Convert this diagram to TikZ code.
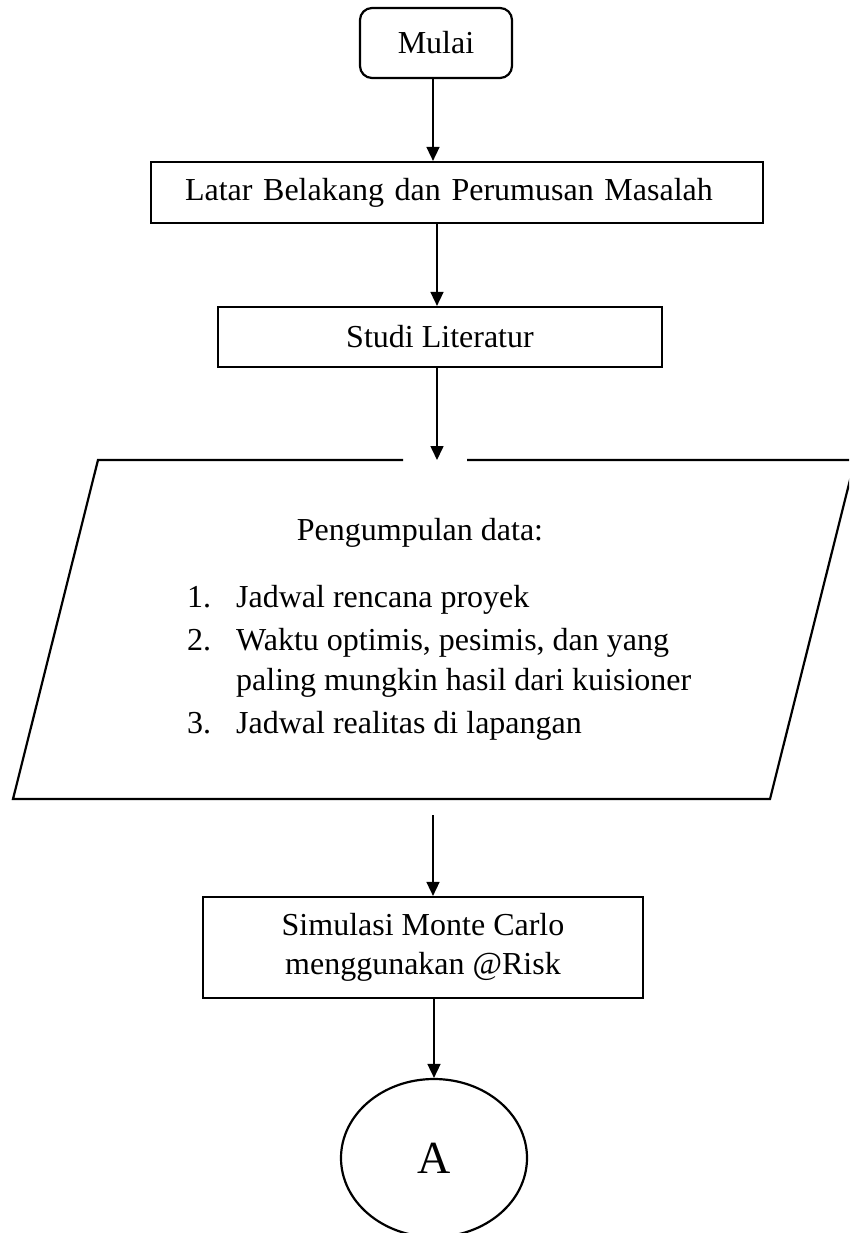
\documentclass[tikz,border=0pt]{standalone}
\usepackage{fontspec}
\setmainfont{Liberation Serif}
\usetikzlibrary{arrows.meta,shapes.geometric}
\begin{document}
\begin{tikzpicture}[x=1pt,y=-1pt,
  every node/.style={font=\fontsize{32}{38}\selectfont},
  box/.style={draw,line width=2.2pt,rectangle,inner sep=0pt},
  conn/.style={line width=1.6pt,-{Triangle[width=13pt,length=14pt]}},
  edge/.style={line width=2.2pt}]
\clip (0,0) rectangle (849,1233);
\fill[white] (0,0) rectangle (849,1233);
% start
\node[box,rounded corners=12pt,minimum width=152pt,minimum height=70pt] (mulai) at (436,43) {Mulai};
% latar belakang
\node[box,minimum width=612pt,minimum height=61pt,text width=544pt,inner xsep=34pt,align=left] (latar) at (457,192.5) {Latar Belakang dan Perumusan Masalah};
% studi literatur
\node[box,minimum width=444pt,minimum height=60pt] (studi) at (440,337) {Studi Literatur};
% data parallelogram
\coordinate (dtl) at (98,460);
\coordinate (dtr) at (855,460);
\coordinate (dbr) at (770,799);
\coordinate (dbl) at (13,799);
\coordinate (dtop) at (437,460);
\coordinate (dbot) at (433,815);
\draw[edge,line join=miter] (403,460) -- (dtl) -- (dbl) -- (dbr) -- (dtr) -- (467,460);
\node[anchor=base] (dtitle) at (420,540) {Pengumpulan data:};
\node[anchor=base west,inner sep=0pt] (n1) at (187,607) {1.};
\node[anchor=base west,inner sep=0pt] (t1) at (236,607) {Jadwal rencana proyek};
\node[anchor=base west,inner sep=0pt] (n2) at (187,650) {2.};
\node[anchor=base west,inner sep=0pt] (t2) at (236,650) {Waktu optimis, pesimis, dan yang};
\node[anchor=base west,inner sep=0pt] (t2b) at (236,690) {paling mungkin hasil dari kuisioner};
\node[anchor=base west,inner sep=0pt] (n3) at (187,733) {3.};
\node[anchor=base west,inner sep=0pt] (t3) at (236,733) {Jadwal realitas di lapangan};
% simulation
\node[box,minimum width=440pt,minimum height=101pt,align=center] (sim) at (423,947.5) {Simulasi Monte Carlo\\[1pt]menggunakan @Risk};
% connector A
\node[draw,ellipse,line width=2.2pt,minimum width=186pt,minimum height=158pt,inner sep=0pt,font=\fontsize{46}{50}\selectfont] (A) at (434,1158) {A};
% connectors
\draw[conn] (mulai.south -| 433,0) -- (433,0 |- latar.north);
\draw[conn] (437,0 |- latar.south) -- (437,0 |- studi.north);
\draw[conn] (437,0 |- studi.south) -- (dtop);
\draw[conn] (dbot) -- (dbot |- sim.north);
\draw[conn] (sim.south -| A.north) -- (A.north);
\end{tikzpicture}
\end{document}
